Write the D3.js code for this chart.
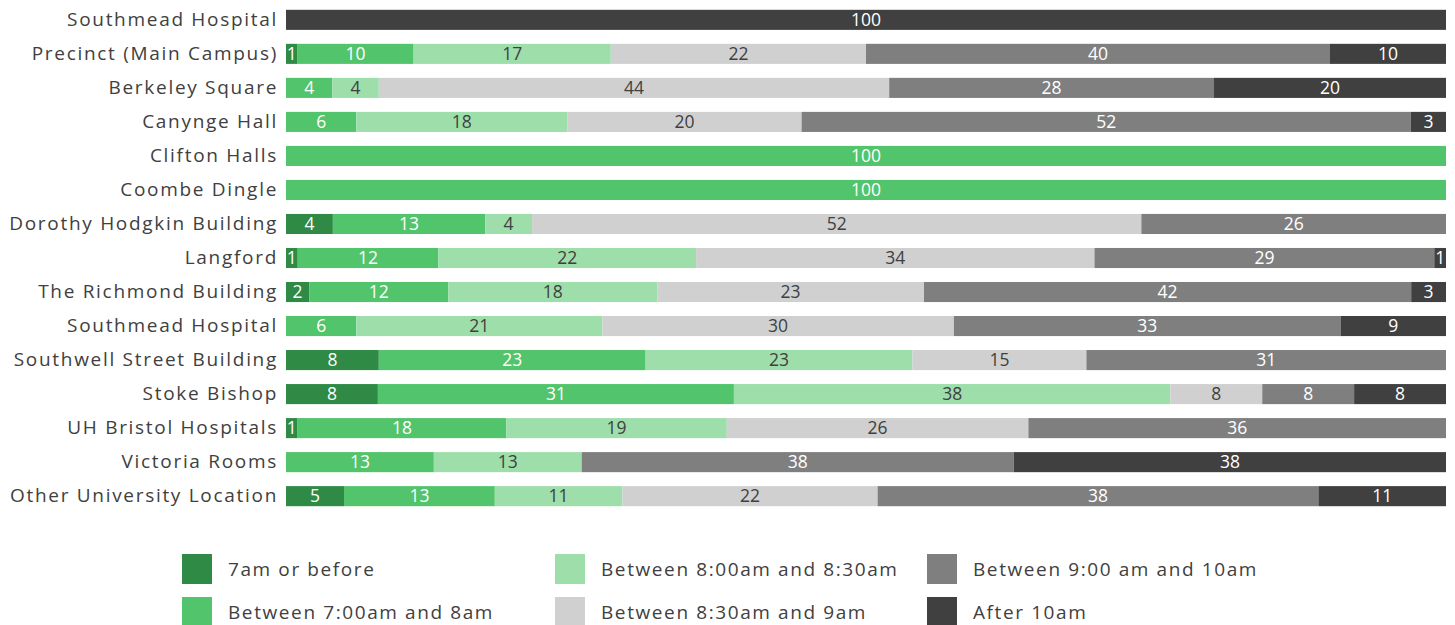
<!DOCTYPE html>
<html><head><meta charset="utf-8">
<script src="https://cdn.jsdelivr.net/npm/d3@7"></script>
<style>body{margin:0;background:#fff}svg{display:block}text{font-family:"Open Sans",sans-serif}</style>
</head><body><svg id="c" width="1455" height="625"></svg>
<script>
const categories = ["Southmead Hospital","Precinct (Main Campus)","Berkeley Square","Canynge Hall","Clifton Halls","Coombe Dingle","Dorothy Hodgkin Building","Langford","The Richmond Building","Southmead Hospital","Southwell Street Building","Stoke Bishop","UH Bristol Hospitals","Victoria Rooms","Other University Location"];
const seriesNames = ["7am or before","Between 7:00am and 8am","Between 8:00am and 8:30am","Between 8:30am and 9am","Between 9:00 am and 10am","After 10am"];
const s7orBefore = [0,1,0,0,0,0,4,1,2,0,8,8,1,0,5];
const s7to8      = [0,10,4,6,100,100,13,12,12,6,23,31,18,13,13];
const s8to830    = [0,17,4,18,0,0,4,22,18,21,23,38,19,13,11];
const s830to9    = [0,22,44,20,0,0,52,34,23,30,15,8,26,0,22];
const s9to10     = [0,40,28,52,0,0,26,29,42,33,31,8,36,38,38];
const sAfter10   = [100,10,20,3,0,0,0,1,3,9,0,8,0,38,11];
const colors = ["#2e8a45","#52c46b","#9ddeab","#d0d0d0","#7f7f7f","#404040"];
const labelColors = ["#fff","#fff","#404040","#404040","#fff","#fff"];

const series = [s7orBefore,s7to8,s8to830,s830to9,s9to10,sAfter10];
const svg = d3.select("#c");
const x0 = 286, x1 = 1446;
const x = d3.scaleLinear().domain([0,1]).range([x0,x1]);
const y = d3.scaleBand().domain(d3.range(categories.length)).range([3,513]).paddingInner(0.41).paddingOuter(0.2);

const rows = categories.map((c,i)=>{
  const vals = series.map(s=>s[i]);
  const tot = d3.sum(vals);
  let acc = 0;
  return vals.map((v,k)=>{const a=acc/tot; acc+=v; return {k,v,a,b:acc/tot,i};});
});

const g = svg.append("g");
rows.forEach(r=>{
  r.filter(d=>d.v>0).forEach(d=>{
    g.append("rect").attr("x",x(d.a)).attr("width",x(d.b)-x(d.a))
      .attr("y",y(d.i)).attr("height",y.bandwidth()).attr("fill",colors[d.k]);
    g.append("text").attr("x",(x(d.a)+x(d.b))/2).attr("y",y(d.i)+y.bandwidth()/2)
      .attr("dy","0.36em").attr("text-anchor","middle").attr("font-size",17.5)
      .attr("fill",labelColors[d.k]).text(d.v);
  });
});

const yAxis = d3.axisLeft(y).tickSize(0).tickPadding(8).tickFormat(i=>categories[i]);
const ax = svg.append("g").attr("transform",`translate(${x0},0)`).call(yAxis);
ax.select(".domain").remove();
ax.selectAll("text").attr("font-size",19).attr("fill","#404040").attr("letter-spacing","1.7px").style("font-family","'Open Sans',sans-serif");

const legCols = [182,555,927], legRows = [554,597];
seriesNames.forEach((n,k)=>{
  const lx = legCols[Math.floor(k/2)], ly = legRows[k%2];
  svg.append("rect").attr("x",lx).attr("y",ly).attr("width",30).attr("height",30).attr("fill",colors[k]);
  svg.append("text").attr("x",lx+46).attr("y",ly+15).attr("dy","0.36em").attr("font-size",19)
    .attr("fill","#404040").attr("letter-spacing","1.6px").text(n);
});
</script></body></html>
